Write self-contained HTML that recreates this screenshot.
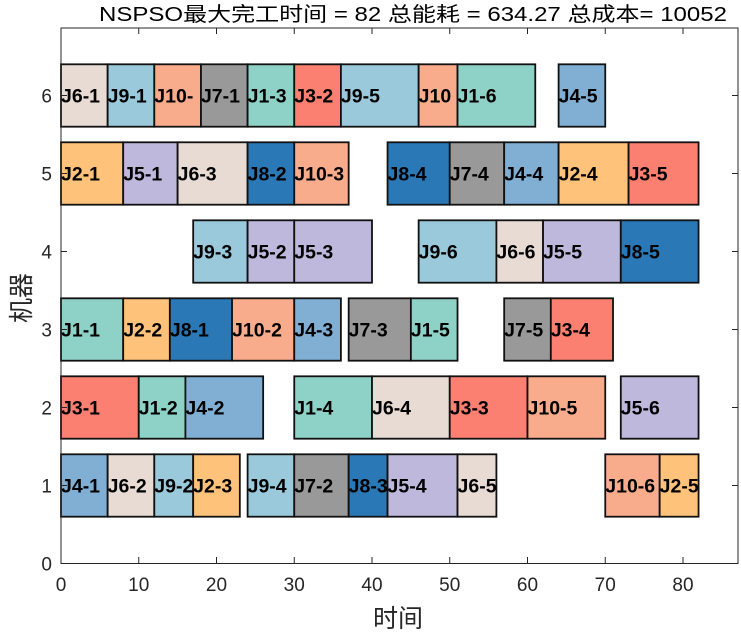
<!DOCTYPE html>
<html><head><meta charset="utf-8"><style>body{margin:0;background:#fff}</style></head><body>
<svg width="741" height="634" xmlns="http://www.w3.org/2000/svg" font-family="Liberation Sans, 'Noto Sans CJK SC', sans-serif">
<rect width="741" height="634" fill="#fff"/>
<text x="99" y="21" font-size="20" textLength="628" lengthAdjust="spacingAndGlyphs" fill="#000">NSPSO最大完工时间 = 82 总能耗 = 634.27 总成本= 10052</text>
<g id="bars"></g>
<rect x="61" y="28" width="677" height="535.5" fill="none" stroke="#262626" stroke-width="1"/>
<g id="ticks" stroke="#262626" stroke-width="1"></g>
<g id="lbl" font-size="19" fill="#262626"></g>
<text x="398" y="627" font-size="25" text-anchor="middle" fill="#262626">时间</text>
<text transform="translate(30,298) rotate(-90)" font-size="25" text-anchor="middle" fill="#262626">机器</text>
</svg>
<script>
const X=v=>61+v*7.775, Y=v=>563.5-v*78;
const C={1:"#8ed1c6",2:"#fec27a",3:"#fb8072",4:"#80afd3",5:"#bdb8dc",6:"#e8dbd3",7:"#999999",8:"#2a78b5",9:"#9ac9db",10:"#f8ac8c"};
const D=[
[6,[["J6-1",6,0,6],["J9-1",9,6,12],["J10-",10,12,18],["J7-1",7,18,24],["J1-3",1,24,30],["J3-2",3,30,36],["J9-5",9,36,46],["J10",10,46,51],["J1-6",1,51,61],["J4-5",4,64,70]]],
[5,[["J2-1",2,0,8],["J5-1",5,8,15],["J6-3",6,15,24],["J8-2",8,24,30],["J10-3",10,30,37],["J8-4",8,42,50],["J7-4",7,50,57],["J4-4",4,57,64],["J2-4",2,64,73],["J3-5",3,73,82]]],
[4,[["J9-3",9,17,24],["J5-2",5,24,30],["J5-3",5,30,40],["J9-6",9,46,56],["J6-6",6,56,62],["J5-5",5,62,72],["J8-5",8,72,82]]],
[3,[["J1-1",1,0,8],["J2-2",2,8,14],["J8-1",8,14,22],["J10-2",10,22,30],["J4-3",4,30,36],["J7-3",7,37,45],["J1-5",1,45,51],["J7-5",7,57,63],["J3-4",3,63,71]]],
[2,[["J3-1",3,0,10],["J1-2",1,10,16],["J4-2",4,16,26],["J1-4",1,30,40],["J6-4",6,40,50],["J3-3",3,50,60],["J10-5",10,60,70],["J5-6",5,72,82]]],
[1,[["J4-1",4,0,6],["J6-2",6,6,12],["J9-2",9,12,17],["J2-3",2,17,23],["J9-4",9,24,30],["J7-2",7,30,37],["J8-3",8,37,42],["J5-4",5,42,51],["J6-5",6,51,56],["J10-6",10,70,77],["J2-5",2,77,82]]]];
let s="";
for(const [m,arr] of D){const y0=Y(m+0.4),h=0.8*78;
for(const [t,j,a,b] of arr){s+=`<rect x="${X(a)}" y="${y0}" width="${X(b)-X(a)}" height="${h}" fill="${C[j]}" stroke="#111" stroke-width="1.8"/>`;}
for(const [t,j,a,b] of arr){s+=`<text x="${X(a)}" y="${Y(m)+7}" font-size="19.5" font-weight="bold" fill="#000">${t}</text>`;}}
document.getElementById("bars").innerHTML=s;
let tk="",lb="";
for(let v=0;v<=80;v+=10){tk+=`<line x1="${X(v)}" x2="${X(v)}" y1="563.5" y2="557"/><line x1="${X(v)}" x2="${X(v)}" y1="28" y2="34"/>`;lb+=`<text x="${X(v)}" y="591" text-anchor="middle">${v}</text>`;}
for(let v=0;v<=6;v++){tk+=`<line x1="61" x2="67" y1="${Y(v)}" y2="${Y(v)}"/><line x1="738" x2="732" y1="${Y(v)}" y2="${Y(v)}"/>`;lb+=`<text x="52" y="${Y(v)+7}" text-anchor="end">${v}</text>`;}
document.getElementById("ticks").innerHTML=tk;document.getElementById("lbl").innerHTML=lb;
</script>
</body></html>
